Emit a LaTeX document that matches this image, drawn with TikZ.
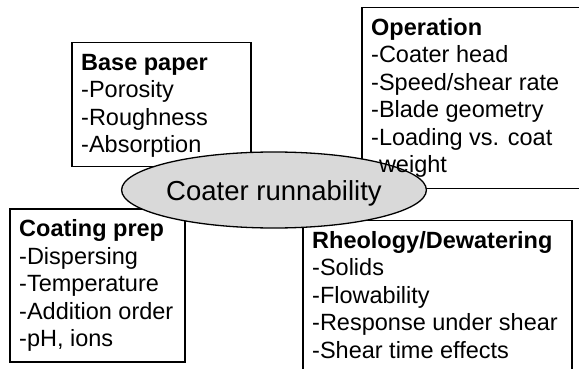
\documentclass[tikz,border=0pt]{standalone}
\usepackage{fontspec}
\setmainfont{Liberation Sans}
\usetikzlibrary{shapes.geometric}
\begin{document}
\begin{tikzpicture}[x=1pt,y=-1pt,
  frame/.style={draw=black, line width=1.3pt, fill=white, rectangle, inner sep=0pt, outer sep=0pt, anchor=north west},
  txt/.style={anchor=north west, align=left, inner xsep=9pt, inner ysep=8.25pt, font=\fontsize{23.5}{27.5}\selectfont},
  hub/.style={ellipse, draw=black, line width=1.3pt, fill=black!15, minimum width=240pt, minimum height=76pt, inner sep=0pt, text height=20pt, text depth=0pt, font=\fontsize{27.5}{33}\selectfont}]
\useasboundingbox (0,0) rectangle (579,369);
% frames
\node[frame, minimum width=230pt, minimum height=181pt] (opbox) at (362,7.3) {};
\node[frame, minimum width=179pt, minimum height=124pt] (basebox) at (72,42.7) {};
\node[frame, minimum width=175pt, minimum height=153pt] (prepbox) at (10,209) {};
\node[frame, minimum width=269pt, minimum height=160pt] (rheobox) at (303,220.5) {};
% central ellipse
\node[hub] (hub) at (274,190) {Coater runnability};
% texts
\node[txt] (basetxt) at (basebox.north west) {\strut\textbf{Base paper}\\-Porosity\\-Roughness\\-Absorption};
\node[txt] (optxt) at (opbox.north west) {\strut\textbf{Operation}\\-Coater head\\-Speed/shear rate\\-Blade geometry\\-Loading vs. coat\\\hphantom{-}weight};
\node[txt] (preptxt) at (prepbox.north west) {\strut\textbf{Coating prep}\\-Dispersing\\-Temperature\\-Addition order\\-pH, ions};
\node[txt] (rheotxt) at (rheobox.north west) {\strut\textbf{Rheology/Dewatering}\\-Solids\\-Flowability\\-Response under shear\\-Shear time effects};
\end{tikzpicture}
\end{document}
